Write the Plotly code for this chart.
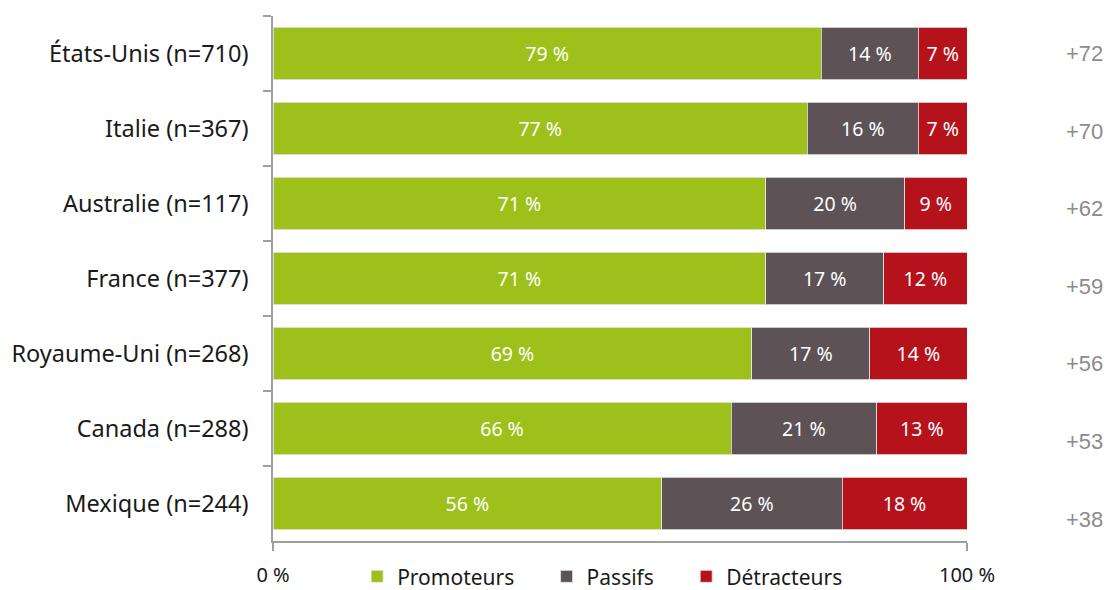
import plotly.graph_objects as go

countries = ["États-Unis (n=710)", "Italie (n=367)", "Australie (n=117)", "France (n=377)",
             "Royaume-Uni (n=268)", "Canada (n=288)", "Mexique (n=244)"]
promoteurs = [79, 77, 71, 71, 69, 66, 56]
passifs = [14, 16, 20, 17, 17, 21, 26]
detracteurs = [7, 7, 9, 12, 14, 13, 18]
nps = ["+72", "+70", "+62", "+59", "+56", "+53", "+38"]

series = [("Promoteurs", promoteurs, "#9dc11a"),
          ("Passifs", passifs, "#5d5357"),
          ("Détracteurs", detracteurs, "#b5121b")]

FONT = "Noto Sans"
PAD = "\u00a0" * 5
fig = go.Figure()
for k, (name, vals, col) in enumerate(series):
    fig.add_trace(go.Bar(
        y=countries, x=vals, name=name + (PAD if k < len(series) - 1 else ""), orientation="h",
        marker=dict(color=col, line=dict(color="#e6e6e6", width=0.8)),
        width=0.7,
        text=[f"{v} %" for v in vals], textposition="inside", insidetextanchor="middle",
        textfont=dict(color="white", size=19.5, family=FONT),
        hoverinfo="skip",
    ))

for i, (c, s) in enumerate(zip(countries, nps)):
    fig.add_annotation(x=1.17, y=c, xref="paper", yref="y", text=s, showarrow=False,
                       xanchor="center", yshift=-i * 2.6,
                       font=dict(family="Liberation Sans", size=22, color="#8c8c8c"))

fig.update_layout(
    barmode="stack",
    width=1113, height=590,
    margin=dict(l=273, r=146, t=16, b=49, autoexpand=False),
    plot_bgcolor="white", paper_bgcolor="white",
    font=dict(family=FONT, size=21, color="#1a1a1a"),
    showlegend=True,
    legend=dict(orientation="h", x=0.475, xanchor="center", y=-0.068, yanchor="middle",
                font=dict(size=21, family=FONT, color="#1a1a1a"), traceorder="normal",
                itemwidth=30),
    bargap=0.3,
)
fig.update_xaxes(range=[0, 100], tickvals=[0, 100], ticktext=["0 %", "100 %"],
                 showgrid=False, zeroline=False, showline=True, linecolor="#a0a0a0", linewidth=1.5,
                 ticks="outside", ticklen=8, tickcolor="#a0a0a0", tickwidth=1.5,
                 ticklabelstandoff=7, tickfont=dict(size=20, family=FONT, color="#1a1a1a"))
fig.update_yaxes(autorange="reversed", showgrid=False, showline=True, linecolor="#a0a0a0",
                 linewidth=1.5, ticks="outside", ticklen=8, tickcolor="#a0a0a0", tickwidth=1.5,
                 tickson="boundaries", ticklabelstandoff=18,
                 tickfont=dict(size=23.5, family=FONT, color="#1a1a1a"))

fig.write_html("out.html")
